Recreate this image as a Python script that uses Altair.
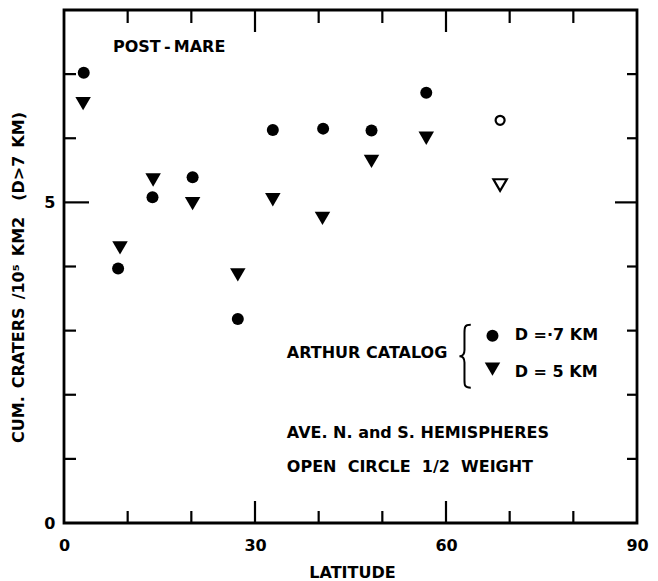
import altair as alt
import pandas as pd

FONT = "DejaVu Sans"
FS = 16
FW = "bold"
EN = "\u2002"
EM = "\u2003"
TH = "\u2009"

# --- data ---
lat_d7 = [3.1, 8.5, 13.9, 20.2, 27.3, 32.8, 40.7, 48.3, 56.9]
val_d7 = [7.02, 3.97, 5.08, 5.39, 3.18, 6.13, 6.15, 6.12, 6.71]
lat_d5 = [3.0, 8.8, 14.0, 20.2, 27.3, 32.8, 40.6, 48.3, 56.9]
val_d5 = [6.54, 4.29, 5.35, 4.98, 3.87, 5.04, 4.75, 5.64, 6.00]
open_lat = [68.5]
open_d7 = [6.28]
open_d5 = [5.27]

x_labels = [0, 30, 60, 90]
y_labels = [0, 5]
x_minor = [10, 20, 40, 50, 70, 80]
x_major = [30, 60]
y_minor = [1, 2, 3, 4, 6, 7]
y_major = [5]

notes = ["POST" + TH + "-" + TH + "MARE", "ARTHUR CATALOG", "AVE. N. and S. HEMISPHERES",
         "OPEN" + EN + TH + "CIRCLE" + EN + TH + "1/2" + EN + TH + "WEIGHT",
         "D =·7 KM", "D = 5 KM"]
note_x = [7.7, 35.0, 35.0, 35.0, 70.8, 70.8]
note_y = [7.42, 2.65, 1.41, 0.87, 2.93, 2.36]

key_x = [67.3]
key_d7 = [2.92]
key_d5 = [2.40]
brace_x = [63.1]
brace_y = [2.60]

y_title = "CUM." + EN + "CRATERS" + EN + "/10⁵" + EN + "KM2" + EM + "(D>7" + EN + "KM)"

W, H = 573, 513

xs = alt.Scale(domain=[0, 90], nice=False, zero=False)
ys = alt.Scale(domain=[0, 8], nice=False, zero=False)

xaxis = alt.Axis(values=x_labels, ticks=False, tickSize=0, domain=False, grid=False,
                 labelFont=FONT, labelFontSize=FS, labelFontWeight=FW, labelColor="black",
                 labelPadding=14, labelFlush=False,
                 title="LATITUDE", titleFont=FONT, titleFontSize=FS, titleFontWeight=FW,
                 titleColor="black", titleX=288, titleY=49, titleBaseline="middle",
                 titleAlign="center")
yaxis = alt.Axis(values=y_labels, ticks=False, tickSize=0, domain=False, grid=False,
                 labelFont=FONT, labelFontSize=FS, labelFontWeight=FW, labelColor="black",
                 labelPadding=9, labelFlush=False,
                 title=y_title, titleFont=FONT, titleFontSize=FS,
                 titleFontWeight=FW, titleColor="black", titleAngle=-90,
                 titleX=-46, titleY=267, titleAlign="center", titleBaseline="middle")


def X(field):
    return alt.X(f"{field}:Q", scale=xs, axis=xaxis)


def Y(field):
    return alt.Y(f"{field}:Q", scale=ys, axis=yaxis)


def pts(lats, vals, shape, size, filled):
    df = pd.DataFrame({"lat": lats, "v": vals})
    if filled:
        m = alt.Chart(df).mark_point(shape=shape, size=size, filled=True, color="black",
                                     opacity=1, strokeWidth=0)
    else:
        m = alt.Chart(df).mark_point(shape=shape, size=size, filled=False, color="black",
                                     opacity=1, strokeWidth=2.2)
    return m.encode(x=X("lat"), y=Y("v"))


def xticks(vals, y1, y2):
    return alt.Chart(pd.DataFrame({"lat": vals})).mark_rule(
        color="black", strokeWidth=2.2).encode(x=X("lat"), y=alt.value(y1), y2=alt.value(y2))


def yticks(vals, x1, x2):
    return alt.Chart(pd.DataFrame({"v": vals})).mark_rule(
        color="black", strokeWidth=2.2).encode(y=Y("v"), x=alt.value(x1), x2=alt.value(x2))


layers = [
    xticks(x_minor, H, H - 12), xticks(x_major, H, H - 22),
    xticks(x_minor, 0, 13), xticks(x_major, 0, 22),
    yticks(y_minor, 0, 12), yticks(y_major, 0, 25),
    yticks(y_minor, W, W - 10), yticks(y_major, W, W - 22),
    pts(lat_d7, val_d7, "circle", 144, True),
    pts(lat_d5, val_d5, "triangle-down", 240, True),
    pts(open_lat, open_d7, "circle", 81, False),
    pts(open_lat, open_d5, "triangle-down", 180, False),
    pts(key_x, key_d7, "circle", 144, True),
    pts(key_x, key_d5, "triangle-down", 240, True),
]

brace_path = ("M 0.16 -1 C -0.04 -1 -0.04 -0.92 -0.04 -0.75 L -0.04 -0.2 "
              "C -0.04 -0.06 -0.08 0 -0.2 0 C -0.08 0 -0.04 0.06 -0.04 0.2 "
              "L -0.04 0.75 C -0.04 0.92 -0.04 1 0.16 1")
brace = alt.Chart(pd.DataFrame({"lat": brace_x, "v": brace_y})).mark_point(
    shape=brace_path, size=3969, filled=False, color="black", opacity=1, strokeWidth=2
).encode(x=X("lat"), y=Y("v"))
layers.append(brace)

text = alt.Chart(pd.DataFrame({"lat": note_x, "v": note_y, "t": notes})).mark_text(
    align="left", baseline="middle", font=FONT, fontSize=FS, fontWeight=FW, color="black"
).encode(x=X("lat"), y=Y("v"), text="t:N")
layers.append(text)

chart = alt.layer(*layers).properties(
    width=W, height=H,
    autosize=alt.AutoSizeParams(type="none"),
    padding={"left": 56, "top": 2, "right": 13, "bottom": 58},
).configure(background="white").configure_view(stroke="black", strokeWidth=2.8)

chart.save("out.html", embed_options={"renderer": "svg", "actions": False})
